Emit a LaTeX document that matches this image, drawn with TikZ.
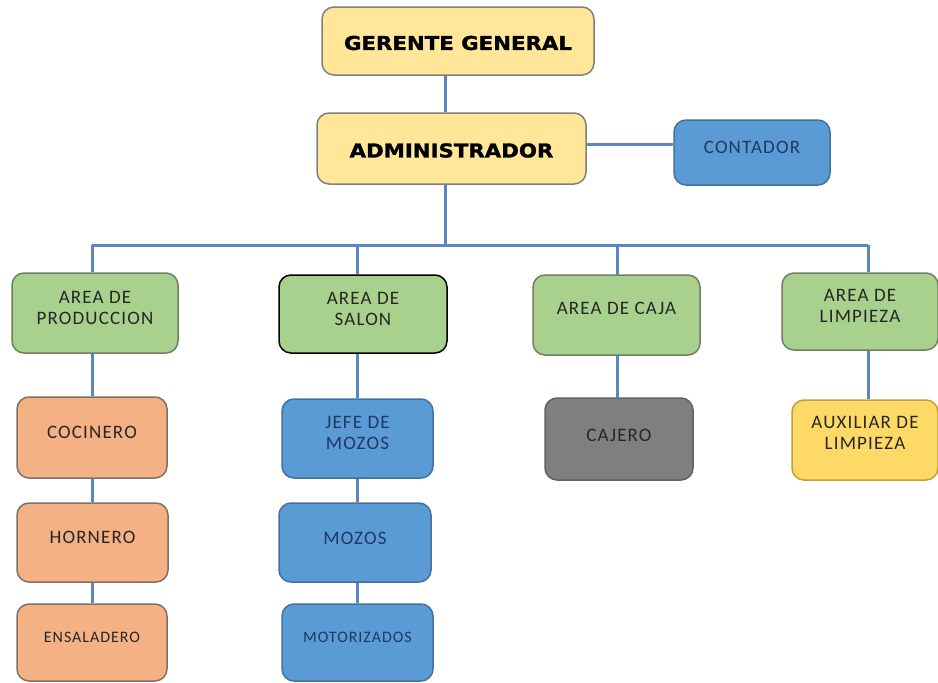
\documentclass[tikz,border=0pt]{standalone}
\usepackage{fontspec}
\setmainfont[LetterSpace=6]{Carlito}
\newfontfamily\headfont[FakeStretch=1.12,FakeBold=1.5]{DejaVu Sans}
\definecolor{hdfill}{HTML}{FFE699}
\definecolor{hdline}{HTML}{7F7F7F}
\definecolor{bluefill}{HTML}{5B9BD5}
\definecolor{blueline}{HTML}{41719C}
\definecolor{greenfill}{HTML}{A9D18E}
\definecolor{greenline}{HTML}{6F7F66}
\definecolor{salfill}{HTML}{F4B183}
\definecolor{salline}{HTML}{7F6F66}
\definecolor{grayfill}{HTML}{7F7F7F}
\definecolor{grayline}{HTML}{5A6470}
\definecolor{yelfill}{HTML}{FFD966}
\definecolor{yelline}{HTML}{BFA040}
\definecolor{conn}{HTML}{5B87BF}
\definecolor{txtc}{HTML}{262626}
\definecolor{navy}{HTML}{1F3864}
\tikzset{
  box/.style={draw, rounded corners=12pt, line width=1.5pt, inner sep=0pt},
  head/.style={box, fill=hdfill, draw=hdline},
  bluebox/.style={box, fill=bluefill, draw=blueline},
  greenbox/.style={box, fill=greenfill, draw=greenline},
  salbox/.style={box, fill=salfill, draw=salline},
  graybox/.style={box, fill=grayfill, draw=grayline},
  yelbox/.style={box, fill=yelfill, draw=yelline},
  tx/.style={font=\fontsize{19}{21}\selectfont, align=center, text=txtc, inner sep=0pt},
  smalltx/.style={tx, font=\fontsize{16}{18}\selectfont},
  headtx/.style={font=\headfont\bfseries\fontsize{19}{22}\selectfont, text=black, inner sep=0pt},
  link/.style={draw=conn, line width=3pt}
}
\begin{document}
\begin{tikzpicture}[x=1pt, y=-1pt]
\useasboundingbox (0,0) rectangle (938,683);
% boxes
\node[head, minimum width=272pt, minimum height=68pt] (gg) at (458,41) {};
\node[head, minimum width=269pt, minimum height=71pt] (adm) at (451.5,148.5) {};
\node[bluebox, minimum width=156pt, minimum height=65pt] (cont) at (752,152.5) {};
\node[greenbox, minimum width=166pt, minimum height=80pt] (prod) at (95,313) {};
\node[greenbox, draw=black, minimum width=168pt, minimum height=78pt] (salon) at (363,314) {};
\node[greenbox, minimum width=167pt, minimum height=80pt] (caja) at (616.5,315) {};
\node[greenbox, minimum width=156pt, minimum height=77pt] (limp) at (860,311.5) {};
\node[salbox, minimum width=150pt, minimum height=81pt] (coc) at (92,437.5) {};
\node[salbox, minimum width=151pt, minimum height=79pt] (horn) at (92.5,542.5) {};
\node[salbox, minimum width=150pt, minimum height=77pt] (ens) at (92,642.5) {};
\node[bluebox, minimum width=151pt, minimum height=79pt] (jefe) at (357.5,438.5) {};
\node[bluebox, minimum width=152pt, minimum height=79pt] (mozos) at (355,542.5) {};
\node[bluebox, minimum width=151pt, minimum height=77pt] (moto) at (357.5,642.5) {};
\node[graybox, minimum width=148pt, minimum height=82pt] (cajero) at (619,439) {};
\node[yelbox, minimum width=146pt, minimum height=80pt] (aux) at (865,440) {};
% texts
\node[headtx] (tgg) at ([yshift=-2pt]gg.center) {GERENTE GENERAL};
\node[headtx] (tadm) at ([yshift=-2pt]adm.center) {ADMINISTRADOR};
\node[tx, text=navy] (tcont) at ([yshift=5pt]cont.center) {CONTADOR};
\node[tx] (tprod) at ([yshift=5pt]prod.center) {AREA DE\\PRODUCCION};
\node[tx] (tsalon) at ([yshift=5pt]salon.center) {AREA DE\\SALON};
\node[tx] (tcaja) at ([yshift=7pt]caja.center) {AREA DE CAJA};
\node[tx] (tlimp) at ([yshift=6pt]limp.center) {AREA DE\\LIMPIEZA};
\node[tx] (tcoc) at ([yshift=5pt]coc.center) {COCINERO};
\node[tx] (thorn) at ([yshift=5pt]horn.center) {HORNERO};
\node[smalltx] (tens) at ([yshift=5pt]ens.center) {ENSALADERO};
\node[tx, text=navy] (tjefe) at ([yshift=6pt]jefe.center) {JEFE DE\\MOZOS};
\node[tx, text=navy] (tmozos) at ([yshift=4pt]mozos.center) {MOZOS};
\node[smalltx, text=navy] (tmoto) at ([yshift=5pt]moto.center) {MOTORIZADOS};
\node[tx] (tcajero) at ([yshift=4pt]cajero.center) {CAJERO};
\node[tx] (taux) at ([yshift=7pt]aux.center) {AUXILIAR DE\\LIMPIEZA};
% connector coordinates
\coordinate (spine) at (445,245);
\coordinate (busL) at (92,245);
\coordinate (busR) at (868,245);
% connectors
\draw[link] (spine |- gg.south) -- (spine |- adm.north);
\draw[link] (spine |- adm.south) -- (spine);
\draw[link] ([yshift=4pt]adm.east) -- ([yshift=4pt]adm.east -| cont.west);
\draw[link] (busL) -- (busR);
\draw[link] (busL) -- (busL |- prod.north);
\draw[link] (jefe.north |- busL) -- (jefe.north |- salon.north);
\draw[link] (617,245) -- (617,275);
\draw[link] (busR) -- (busR |- limp.north);
\draw[link] (coc.north |- prod.south) -- (coc.north);
\draw[link] (coc.south) -- (coc.south |- horn.north);
\draw[link] (coc.south |- horn.south) -- (coc.south |- ens.north);
\draw[link] (jefe.north |- salon.south) -- (jefe.north);
\draw[link] (jefe.south) -- (jefe.south |- mozos.north);
\draw[link] (jefe.south |- mozos.south) -- (jefe.south |- moto.north);
\draw[link] (617,355) -- (617,398);
\draw[link] (busR |- limp.south) -- (busR |- aux.north);
\end{tikzpicture}
\end{document}
